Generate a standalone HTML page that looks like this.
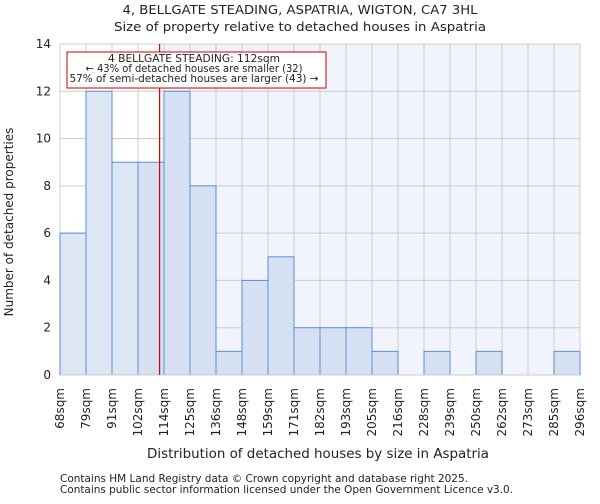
<!DOCTYPE html>
<html><head><meta charset="utf-8"><style>
body{margin:0;background:#fff;font-family:"DejaVu Sans","Liberation Sans",sans-serif;}
svg text{font-family:"DejaVu Sans","Liberation Sans",sans-serif;fill:#222;}
</style></head><body>
<svg id="c" width="600" height="500" xmlns="http://www.w3.org/2000/svg">
<text x="300" y="14" font-size="12.5" text-anchor="middle" textLength="355" lengthAdjust="spacingAndGlyphs">4, BELLGATE STEADING, ASPATRIA, WIGTON, CA7 3HL</text>
<text x="300" y="31" font-size="12.5" text-anchor="middle" textLength="372" lengthAdjust="spacingAndGlyphs">Size of property relative to detached houses in Aspatria</text>
<g id="plot"></g>
<text x="318" y="458" font-size="13" text-anchor="middle" textLength="342" lengthAdjust="spacingAndGlyphs">Distribution of detached houses by size in Aspatria</text>
<text transform="translate(13,222) rotate(-90)" font-size="12" text-anchor="middle">Number of detached properties</text>
<text x="60" y="482" font-size="10.5" fill="#555" textLength="408" lengthAdjust="spacingAndGlyphs">Contains HM Land Registry data © Crown copyright and database right 2025.</text>
<text x="60" y="493" font-size="10.5" fill="#555" textLength="453" lengthAdjust="spacingAndGlyphs">Contains public sector information licensed under the Open Government Licence v3.0.</text>
</svg>
<script>
const binLabels=["68sqm","79sqm","91sqm","102sqm","114sqm","125sqm","136sqm","148sqm","159sqm","171sqm","182sqm","193sqm","205sqm","216sqm","228sqm","239sqm","250sqm","262sqm","273sqm","285sqm","296sqm"];
const counts=[6,12,9,9,12,8,1,4,5,2,2,2,1,0,1,0,1,0,0,1];
const yTicks=[0,2,4,6,8,10,12,14];
const propertyIndex=3.83; // 112sqm in bin units
const NS="http://www.w3.org/2000/svg";
const g=document.getElementById('plot');
const L=60,R=580,T=44,B=375,yMax=14;
const n=counts.length;
const x=i=>L+(R-L)*i/n;
const y=v=>B-(B-T)*v/yMax;
function mk(t,a){const e=document.createElementNS(NS,t);for(const k in a)e.setAttribute(k,a[k]);g.appendChild(e);return e;}
const px=x(propertyIndex);
let e=mk('rect',{x:L,y:T,width:px-L,height:B-T,fill:'#ffffff'});


e=mk('rect',{x:px,y:T,width:R-px,height:B-T,fill:'#f1f4fc'});


yTicks.forEach(v=>{
 let l=mk('line',{x1:L,x2:R,y1:y(v),y2:y(v),stroke:'#cccccc','stroke-width':1});
 
 
 let t=mk('text',{x:L-9,y:y(v)+4,'font-size':12,'text-anchor':'end'});t.textContent=v;
 
 
});
for(let i=0;i<=n;i++){
 let l=mk('line',{x1:x(i),x2:x(i),y1:T,y2:B,stroke:'#cccccc','stroke-width':1});
 
 
}
counts.forEach((c,i)=>{
 if(c<=0)return;
 let r=mk('rect',{x:x(i),y:y(c),width:x(i+1)-x(i),height:B-y(c),fill:(x(i+1)<=px?'#dde6f3':'#d5e0f3'),stroke:'#5a8fd8','stroke-width':1});
 
 
});
binLabels.forEach((s,i)=>{
 let t=mk('text',{transform:`translate(${x(i)+4},388) rotate(-90)`,'font-size':12,'text-anchor':'end'});t.textContent=s;
 
 
});
let ax=mk('line',{x1:L,x2:R,y1:B,y2:B,stroke:'#cccccc'});


let rl=mk('line',{x1:px,x2:px,y1:T,y2:B,stroke:'#dd0000','stroke-width':1.2});


let box=mk('rect',{x:67,y:52,width:259,height:36,fill:'#ffffff',stroke:'#cc0000','stroke-width':1});


const annW=[172,217,249];
["4 BELLGATE STEADING: 112sqm","← 43% of detached houses are smaller (32)","57% of semi-detached houses are larger (43) →"].forEach((s,k)=>{
 let t=mk('text',{x:194,y:62+k*10,'font-size':10.5,'text-anchor':'middle',textLength:annW[k],lengthAdjust:'spacingAndGlyphs'});t.textContent=s;
 
 
});
</script>
</body></html>
